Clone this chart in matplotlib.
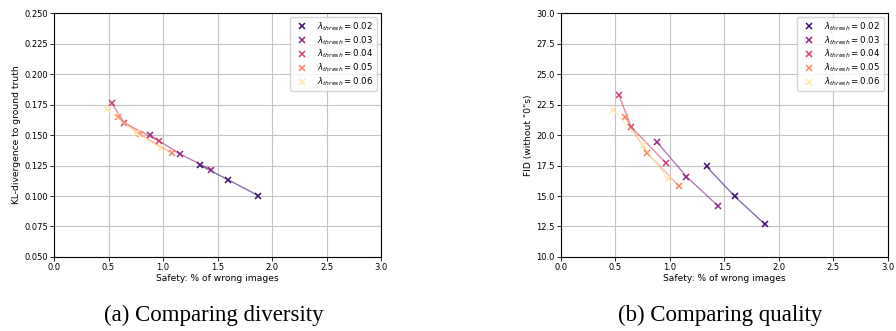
import matplotlib.pyplot as plt
import numpy as np

# thresholds and measured points (safety %, KL, FID)
thresholds = [0.02, 0.03, 0.04, 0.05, 0.06]
safety = [
	[1.336, 1.595, 1.872],
	[0.881, 1.152, 1.443],
	[0.531, 0.643, 0.964],
	[0.585, 0.788, 1.083],
	[0.482, 0.753, 0.982],
]
kl_div = [
	[0.1254, 0.1134, 0.1004],
	[0.1500, 0.1345, 0.1215],
	[0.1760, 0.1600, 0.1450],
	[0.1650, 0.1505, 0.1350],
	[0.1710, 0.1520, 0.1390],
]
fid = [
	[17.42, 14.96, 12.68],
	[19.43, 16.59, 14.17],
	[23.31, 20.68, 17.70],
	[21.49, 18.56, 15.80],
	[22.09, 19.16, 16.37],
]

colors = plt.cm.magma([0.2, 0.4, 0.56, 0.74, 0.95])
fs = 6.0

fig = plt.figure(figsize=(8.96, 3.31), dpi=100)
ax1 = fig.add_axes([0.0603, 0.2236, 0.365, 0.737])
ax2 = fig.add_axes([0.626, 0.2236, 0.365, 0.737])

def draw(ax, yvals, ylabel, ylim, yticks, fmt):
	for t, xs, ys, c in zip(thresholds, safety, yvals, colors):
		ax.plot(xs, ys, '-', color=c, alpha=0.6, lw=1.0)
		ax.plot(xs, ys, 'x', color=c, ms=4.5, mew=1.1, ls='none',
			label=r'$\lambda_{thresh} = %.2f$' % t)
	ax.set_xlim(0, 3)
	ax.set_ylim(*ylim)
	ax.set_xticks(np.arange(0, 3.01, 0.5))
	ax.set_yticks(yticks)
	ax.set_yticklabels([fmt % v for v in yticks])
	ax.grid(True, color='#c4c4c4', lw=0.8)
	ax.set_axisbelow(True)
	ax.tick_params(labelsize=fs, length=3, width=0.6, pad=1.5)
	ax.set_xlabel('Safety: % of wrong images', fontsize=6.6, labelpad=1.5)
	ax.set_ylabel(ylabel, fontsize=6.6, labelpad=2)
	for s in ax.spines.values():
		s.set_linewidth(0.8)
	ax.legend(loc='upper right', fontsize=6.2, handletextpad=0.8,
		borderpad=0.35, labelspacing=0.15, handlelength=2.0, framealpha=0.8)

draw(ax1, kl_div, 'KL-divergence to ground truth', (0.05, 0.25),
	np.arange(0.05, 0.2501, 0.025), '%.3f')
draw(ax2, fid, 'FID (without "0"s)', (10, 30),
	np.arange(10, 30.01, 2.5), '%.1f')

fig.text(0.239, 0.03, '(a) Comparing diversity', ha='center', va='baseline',
	family='Liberation Serif', fontsize=16.5)
fig.text(0.804, 0.03, '(b) Comparing quality', ha='center', va='baseline',
	family='Liberation Serif', fontsize=16.5)

plt.savefig('out.png', dpi=100)
